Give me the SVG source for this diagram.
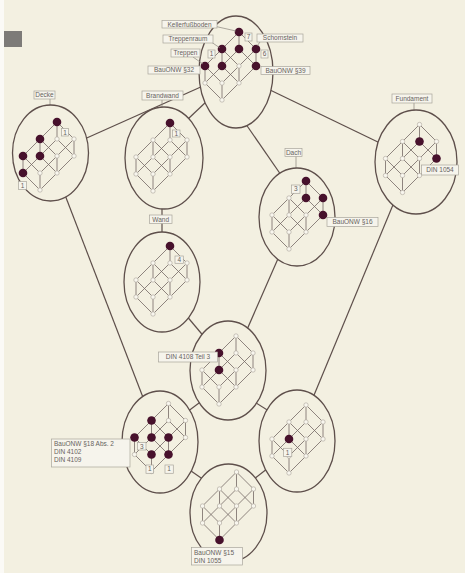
<svg xmlns="http://www.w3.org/2000/svg" width="465" height="573" viewBox="0 0 465 573">
<style>
.el{fill:#f3f0e1;stroke:#5e4f4b;stroke-width:1.3}
.cn{stroke:#5e4f4b;stroke-width:1.2;fill:none}
.ld{stroke:#8a847c;stroke-width:0.7;fill:none}
.lt{stroke:#746864;stroke-width:0.8;fill:none}
.wn{fill:#f8f6ee;stroke:#aaa399;stroke-width:0.6}
.dk{fill:#47112c}
.lb{fill:#f6f4ec;stroke:#a9a59c;stroke-width:0.7}
.tx{font-family:"Liberation Sans",Arial,sans-serif;font-size:6.5px;fill:#67635d}
.c{text-anchor:middle}
</style>
<defs>
<g id="lat">
<path class="lt" d="M34 0V17M17 17V34M0 34V51M51 17V34M34 34V51M17 51V68M34 0L51 17M17 17L34 34M0 34L17 51M34 17L51 34M17 34L34 51M0 51L17 68M34 0L17 17M17 17L0 34M51 17L34 34M34 34L17 51M34 17L17 34M17 34L0 51M51 34L34 51M34 51L17 68"/>
<g class="wn">
<circle cx="34" cy="0" r="2.2"/><circle cx="17" cy="17" r="2.2"/><circle cx="34" cy="17" r="2.2"/><circle cx="51" cy="17" r="2.2"/>
<circle cx="0" cy="34" r="2.2"/><circle cx="17" cy="34" r="2.2"/><circle cx="34" cy="34" r="2.2"/><circle cx="51" cy="34" r="2.2"/>
<circle cx="0" cy="51" r="2.2"/><circle cx="17" cy="51" r="2.2"/><circle cx="34" cy="51" r="2.2"/><circle cx="17" cy="68" r="2.2"/>
</g>
</g>
</defs>
<rect width="465" height="573" fill="#f3f0e1"/>
<rect x="0" y="0" width="4" height="573" fill="#fbfaf6"/>
<rect x="4" y="31" width="18" height="16" fill="#7d7b78"/>

<g id="connectors">
<line class="cn" x1="80" y1="141" x2="203" y2="86"/>
<line class="cn" x1="188" y1="119" x2="207" y2="101"/>
<line class="cn" x1="243" y1="120" x2="281" y2="175"/>
<line class="cn" x1="268" y1="89" x2="382" y2="144"/>
<line class="cn" x1="162" y1="205" x2="162" y2="236"/>
<line class="cn" x1="65" y1="195" x2="144" y2="400"/>
<line class="cn" x1="395" y1="200" x2="312" y2="400"/>
<line class="cn" x1="279.6" y1="255" x2="245.5" y2="333"/>
<line class="cn" x1="185" y1="314" x2="206" y2="339"/>
<line class="cn" x1="203" y1="400" x2="187" y2="412"/>
<line class="cn" x1="253" y1="401" x2="272" y2="413"/>
<line class="cn" x1="181" y1="464" x2="204" y2="480"/>
<line class="cn" x1="254" y1="479" x2="272" y2="465"/>
</g>

<g id="n-top">
<ellipse class="el" cx="236" cy="72" rx="37" ry="56"/>
<use href="#lat" x="205" y="32"/>
<g class="dk">
<circle cx="239" cy="32" r="4.3"/><circle cx="222" cy="49" r="4.3"/><circle cx="239" cy="49" r="4.3"/><circle cx="256" cy="49" r="4.3"/>
<circle cx="205" cy="66" r="4.3"/><circle cx="222" cy="66" r="4.3"/><circle cx="256" cy="66" r="4.3"/>
</g>
<path class="ld" d="M216 26.5L236 31M212 42.5L220 48M193 57L203 64M260 42L257 46"/>
<rect class="lb" x="162" y="20.5" width="55" height="7.5"/><text class="tx c" x="189.5" y="26.6">Kellerfußboden</text>
<rect class="lb" x="163" y="35" width="50" height="8"/><text class="tx c" x="188" y="41.3">Treppenraum</text>
<rect class="lb" x="171" y="49" width="29" height="8"/><text class="tx c" x="185.5" y="55.3">Treppen</text>
<rect class="lb" x="148" y="66" width="52" height="8"/><text class="tx c" x="174" y="72.3">BauONW §32</text>
<rect class="lb" x="245" y="33" width="7" height="8"/><text class="tx c" x="248.5" y="39.3">7</text>
<rect class="lb" x="208" y="50" width="7" height="8"/><text class="tx c" x="211.5" y="56.3">1</text>
<rect class="lb" x="257" y="34" width="46" height="8"/><text class="tx c" x="280" y="40.3">Schornstein</text>
<rect class="lb" x="261" y="50" width="7" height="8"/><text class="tx c" x="264.5" y="56.3">6</text>
<rect class="lb" x="261" y="66.5" width="49" height="8"/><text class="tx c" x="285.5" y="72.8">BauONW §39</text>
</g>

<g id="n-decke">
<line class="ld" x1="50" y1="99" x2="50" y2="110"/>
<ellipse class="el" cx="50.5" cy="153" rx="38" ry="48"/>
<use href="#lat" x="23" y="122"/>
<g class="dk">
<circle cx="57" cy="122" r="4.3"/><circle cx="40" cy="139" r="4.3"/><circle cx="23" cy="156" r="4.3"/><circle cx="40" cy="156" r="4.3"/><circle cx="23" cy="173" r="4.3"/>
</g>
<rect class="lb" x="34" y="91" width="21" height="8"/><text class="tx c" x="44.5" y="97.3">Decke</text>
<rect class="lb" x="61.5" y="128.5" width="7" height="7.5"/><text class="tx c" x="65" y="134.6">1</text>
<rect class="lb" x="18.5" y="181.5" width="8" height="8"/><text class="tx c" x="22.5" y="187.8">1</text>
</g>

<g id="n-brandwand">
<line class="ld" x1="162" y1="100" x2="162" y2="110"/>
<ellipse class="el" cx="164" cy="158" rx="39" ry="51"/>
<use href="#lat" x="136" y="123"/>
<circle class="dk" cx="170" cy="123" r="4.3"/>
<rect class="lb" x="142" y="91" width="41" height="9"/><text class="tx c" x="162.5" y="97.8">Brandwand</text>
<rect class="lb" x="172.5" y="130" width="7.5" height="7"/><text class="tx c" x="176.2" y="135.8">1</text>
</g>

<g id="n-dach">
<line class="ld" x1="296" y1="156" x2="296" y2="171"/>
<ellipse class="el" cx="297" cy="217" rx="38" ry="49"/>
<use href="#lat" x="272" y="181"/>
<g class="dk">
<circle cx="306" cy="181" r="4.3"/><circle cx="306" cy="198" r="4.3"/><circle cx="323" cy="198" r="4.3"/><circle cx="323" cy="215" r="4.3"/>
</g>
<rect class="lb" x="285" y="148.5" width="17" height="8"/><text class="tx c" x="293.5" y="154.8">Dach</text>
<rect class="lb" x="291.5" y="185" width="8.5" height="8.3"/><text class="tx c" x="295.7" y="191.4">3</text>
<rect class="lb" x="327" y="217.5" width="51" height="9"/><text class="tx c" x="352.5" y="224.2">BauONW §16</text>
</g>

<g id="n-fundament">
<line class="ld" x1="414" y1="103" x2="414" y2="113"/>
<ellipse class="el" cx="416" cy="162" rx="41" ry="52"/>
<use href="#lat" x="385.5" y="124.5"/>
<g class="dk">
<circle cx="419.5" cy="141.5" r="4.3"/><circle cx="436.5" cy="158.5" r="4.3"/>
</g>
<rect class="lb" x="392" y="94" width="40" height="9"/><text class="tx c" x="412" y="100.7">Fundament</text>
<rect class="lb" x="421.5" y="165" width="37" height="10"/><text class="tx c" x="440" y="172.2">DIN 1054</text>
</g>

<g id="n-wand">
<ellipse class="el" cx="162" cy="282" rx="38" ry="50"/>
<use href="#lat" x="136" y="246"/>
<circle class="dk" cx="170" cy="246" r="4.3"/>
<rect class="lb" x="149.5" y="215" width="22.5" height="8.5"/><text class="tx c" x="160.7" y="221.5">Wand</text>
<rect class="lb" x="175" y="256" width="8.3" height="7.3"/><text class="tx c" x="179.2" y="262">4</text>
</g>

<g id="n-din4108">
<ellipse class="el" cx="228" cy="370.5" rx="38" ry="49.5"/>
<use href="#lat" x="202" y="336"/>
<g class="dk">
<circle cx="219" cy="353" r="4.3"/><circle cx="219" cy="370" r="4.3"/>
</g>
<rect class="lb" x="158.5" y="352" width="59" height="10"/><text class="tx c" x="188" y="359.2">DIN 4108 Teil 3</text>
</g>

<g id="n-bottomleft">
<ellipse class="el" cx="160" cy="442" rx="38" ry="51"/>
<use href="#lat" x="134.5" y="403.5"/>
<g class="dk">
<circle cx="151.5" cy="420.5" r="4.3"/><circle cx="134.5" cy="437.5" r="4.3"/><circle cx="151.5" cy="437.5" r="4.3"/><circle cx="168.5" cy="437.5" r="4.3"/>
<circle cx="151.5" cy="454.5" r="4.3"/><circle cx="168.5" cy="454.5" r="4.3"/>
</g>
<rect class="lb" x="51.5" y="439" width="78.5" height="28"/>
<text class="tx" x="54" y="445.5">BauONW §18 Abs. 2</text>
<text class="tx" x="54" y="453.8">DIN 4102</text>
<text class="tx" x="54" y="462.2">DIN 4109</text>
<rect class="lb" x="137.5" y="442.5" width="8.5" height="7.5"/><text class="tx c" x="141.7" y="448.6">3</text>
<rect class="lb" x="146" y="465" width="7.5" height="8.3"/><text class="tx c" x="149.7" y="471.4">1</text>
<rect class="lb" x="165" y="465" width="8.3" height="8.3"/><text class="tx c" x="169.1" y="471.4">1</text>
</g>

<g id="n-bottomright">
<ellipse class="el" cx="297" cy="441" rx="38" ry="51"/>
<use href="#lat" x="272" y="405"/>
<circle class="dk" cx="289" cy="439" r="4.3"/>
<rect class="lb" x="283.5" y="448.3" width="8.3" height="8.3"/><text class="tx c" x="287.6" y="454.7">1</text>
</g>

<g id="n-bottom">
<ellipse class="el" cx="228.5" cy="513" rx="38.5" ry="49"/>
<use href="#lat" x="202.5" y="472"/>
<circle class="dk" cx="219.5" cy="540" r="4.3"/>
<rect class="lb" x="191.5" y="547.5" width="51" height="17.5"/>
<text class="tx" x="194" y="555">BauONW §15</text>
<text class="tx" x="194" y="563">DIN 1055</text>
</g>
</svg>
